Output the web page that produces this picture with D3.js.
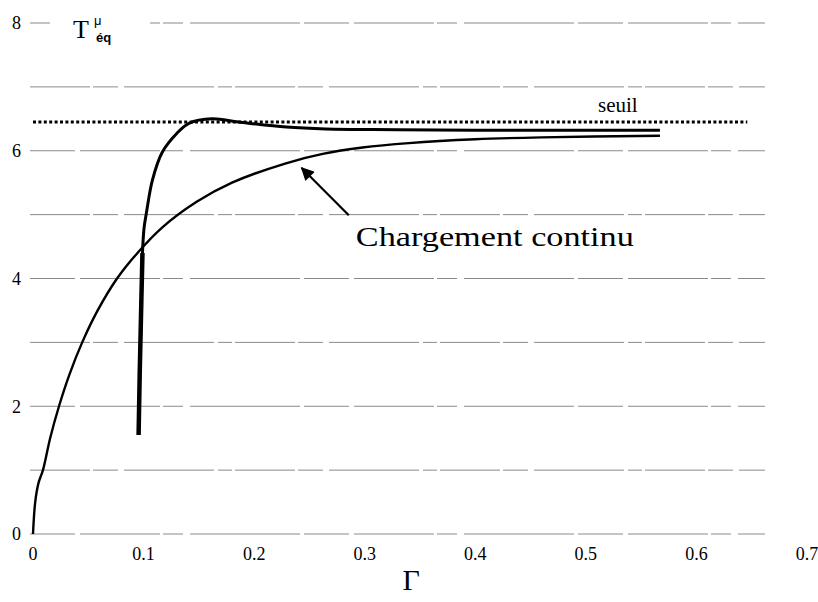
<!DOCTYPE html>
<html><head><meta charset="utf-8">
<script src="https://cdn.jsdelivr.net/npm/d3@7"></script>
<style>body{margin:0;background:#fff}svg{display:block}</style>
</head><body>
<svg id="c" width="818" height="602"></svg>
<script>
// ---- data ----
const xTicks = [0, 0.1, 0.2, 0.3, 0.4, 0.5, 0.6, 0.7];
const xTickLabels = ["0", "0.1", "0.2", "0.3", "0.4", "0.5", "0.6", "0.7"];
const yTicks = [0, 2, 4, 6, 8];
const yGrid = [0, 1, 2, 3, 4, 5, 6, 7, 8];
const seuilValue = 6.45;
const seuilRange = [0, 0.646];
// Chargement continu
const continuG = [0, 0.002, 0.005, 0.009, 0.0155, 0.0235, 0.033, 0.0445, 0.0585, 0.076, 0.0945, 0.117, 0.148, 0.180, 0.228, 0.262, 0.298, 0.340, 0.400, 0.460, 0.567];
const continuT = [0, 0.5, 0.8, 1.0, 1.5, 2.0, 2.5, 3.0, 3.5, 4.0, 4.4, 4.8, 5.2, 5.5, 5.8, 5.95, 6.05, 6.12, 6.18, 6.21, 6.235];
// Chargement cyclique
const cycleG = [0.0955, 0.0965, 0.098, 0.099, 0.1005, 0.1025, 0.108, 0.117, 0.130, 0.141, 0.162, 0.186, 0.229, 0.265, 0.330, 0.400, 0.480, 0.567];
const cycleT = [1.55, 2.5, 3.66, 4.4, 4.8, 5.02, 5.54, 5.98, 6.27, 6.43, 6.5, 6.45, 6.37, 6.34, 6.33, 6.32, 6.32, 6.32];
// annotation (data coordinates)
const arrowFrom = [0.2856, 4.99];
const arrowTo = [0.243, 5.73];
const annotText = "Chargement continu";
const annotPos = [0.292, 4.51];
const seuilText = "seuil";
const seuilPos = [0.511, 6.6];
const xTitle = "Γ";
const xTitlePos = [0.342, -0.88];

// ---- chart ----
const svg = d3.select("#c");
const x = d3.scaleLinear().domain([0, 0.7]).range([33, 807]);
const y = d3.scaleLinear().domain([0, 8]).range([534, 23]);
const serif = "'Liberation Serif','Times New Roman',serif";
const sans = "'Liberation Sans',Arial,sans-serif";

// gridlines
svg.append("g").selectAll("line").data(yGrid).join("line")
  .attr("x1", x(0) - 3).attr("x2", x(0.662))
  .attr("y1", d => y(d)).attr("y2", d => y(d))
  .attr("stroke", "#8a8a8a").attr("stroke-width", 1)
  .attr("stroke-dasharray", (d, i) => i % 2 ? "60,3,25,6,90,4,14,3" : "45,5,80,3,20,7,110,4");

// y tick labels
svg.append("g").selectAll("text").data(yTicks).join("text")
  .attr("x", 21).attr("y", d => y(d)).attr("dy", "0.35em")
  .attr("text-anchor", "end").style("font-family", serif).style("font-size", "18px")
  .text(d => d);

// x tick labels
svg.append("g").selectAll("text").data(xTicks).join("text")
  .attr("x", d => x(d)).attr("y", 560)
  .attr("text-anchor", "middle").style("font-family", serif).style("font-size", "18px")
  .text((d, i) => xTickLabels[i]);

// axis titles
svg.append("text").attr("x", x(xTitlePos[0])).attr("y", y(xTitlePos[1])).attr("text-anchor", "middle")
  .style("font-family", serif).style("font-size", "30px").text(xTitle);
svg.append("rect").attr("x", 50).attr("y", 10).attr("width", 100).attr("height", 36).attr("fill", "#fff");
const tl = svg.append("g");
tl.append("text").attr("x", 73).attr("y", 38).style("font-family", serif).style("font-size", "26px").text("T");
tl.append("text").attr("x", 94).attr("y", 25).style("font-family", sans).style("font-size", "13px").text("μ");
tl.append("text").attr("x", 96).attr("y", 42).style("font-family", sans).style("font-size", "13px").style("font-weight", "bold").text("éq");

// seuil dotted line
svg.append("line")
  .attr("x1", x(seuilRange[0])).attr("x2", x(seuilRange[1]))
  .attr("y1", y(seuilValue)).attr("y2", y(seuilValue))
  .attr("stroke", "#000").attr("stroke-width", 3).attr("stroke-dasharray", "3,2.4");
svg.append("text").attr("x", x(seuilPos[0])).attr("y", y(seuilPos[1]))
  .style("font-family", serif).style("font-size", "21px").text(seuilText);

// curves
const line = d3.line().x(d => x(d[0])).y(d => y(d[1])).curve(d3.curveCatmullRom.alpha(0.5));
const continuData = continuG.map((g, i) => [g, continuT[i]]);
const cycleData = cycleG.map((g, i) => [g, cycleT[i]]);
svg.append("path").attr("d", line(continuData)).attr("fill", "none")
  .attr("stroke", "#000").attr("stroke-width", 2.4);
svg.append("path").attr("d", line(cycleData)).attr("fill", "none")
  .attr("stroke", "#000").attr("stroke-width", 3).attr("stroke-linejoin", "round");
svg.append("path").attr("d", d3.line().x(d => x(d[0])).y(d => y(d[1]))(cycleData.slice(0, 4)))
  .attr("fill", "none").attr("stroke", "#000").attr("stroke-width", 4.5);

// annotation arrow
const defs = svg.append("defs");
defs.append("marker").attr("id", "ah").attr("viewBox", "0 0 10 10")
  .attr("refX", 9).attr("refY", 5).attr("markerWidth", 7).attr("markerHeight", 6)
  .attr("orient", "auto").attr("markerUnits", "strokeWidth")
  .append("path").attr("d", "M0,0L10,5L0,10Z").attr("fill", "#000");
svg.append("line")
  .attr("x1", x(arrowFrom[0])).attr("y1", y(arrowFrom[1]))
  .attr("x2", x(arrowTo[0])).attr("y2", y(arrowTo[1]))
  .attr("stroke", "#000").attr("stroke-width", 2.2).attr("marker-end", "url(#ah)");
svg.append("text").attr("x", x(annotPos[0])).attr("y", y(annotPos[1]))
  .style("font-family", serif).style("font-size", "28px")
  .attr("textLength", 278).attr("lengthAdjust", "spacingAndGlyphs").text(annotText);
</script>
</body></html>
